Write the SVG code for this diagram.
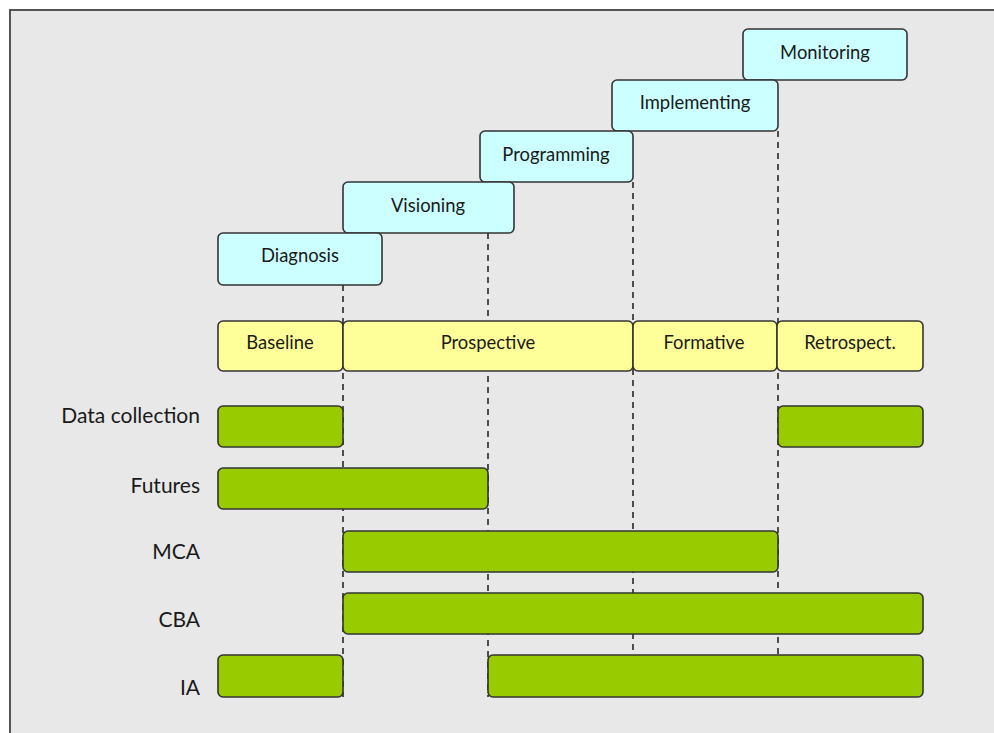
<svg xmlns="http://www.w3.org/2000/svg" width="994" height="733" viewBox="0 0 994 733">
<style>
.frame{fill:#e8e8e8;stroke:#555;stroke-width:2}
.phase{fill:#ccffff;stroke:#333;stroke-width:1.6}
.eval{fill:#ffff99;stroke:#333;stroke-width:1.6}
.bar{fill:#99cc00;stroke:#333;stroke-width:1.6}
.dash{stroke:#333;stroke-width:1.7;stroke-dasharray:6,5;fill:none}
.t{font-family:Lato,"Liberation Sans",sans-serif;font-size:18.4px;fill:#1a1a1a;text-anchor:middle}
.lbl{font-family:Lato,"Liberation Sans",sans-serif;font-size:21px;fill:#1a1a1a;text-anchor:end}
</style>
<rect width="994" height="733" fill="#fff"/>
<rect class="frame" x="10" y="10" width="990" height="730"/>
<g id="connectors">
<line class="dash" x1="343" y1="285" x2="343" y2="697"/>
<line class="dash" x1="488" y1="233" x2="488" y2="697"/>
<line class="dash" x1="633" y1="182" x2="633" y2="656"/>
<line class="dash" x1="778" y1="131" x2="778" y2="656"/>
</g>
<g id="monitoring"><rect class="phase" x="743" y="29" width="164" height="51" rx="5"/><text class="t" x="825" y="59">Monitoring</text></g>
<g id="implementing"><rect class="phase" x="612" y="80" width="166" height="51" rx="5"/><text class="t" x="695" y="109">Implementing</text></g>
<g id="programming"><rect class="phase" x="480" y="131" width="153" height="51" rx="5"/><text class="t" x="556" y="161">Programming</text></g>
<g id="visioning"><rect class="phase" x="343" y="182" width="171" height="51" rx="5"/><text class="t" x="428" y="212">Visioning</text></g>
<g id="diagnosis"><rect class="phase" x="218" y="233" width="164" height="52" rx="5"/><text class="t" x="300" y="262">Diagnosis</text></g>
<g id="baseline"><rect class="eval" x="218" y="321" width="125" height="50" rx="5"/><text class="t" x="280" y="349">Baseline</text></g>
<g id="prospective"><rect class="eval" x="343" y="321" width="290" height="50" rx="5"/><text class="t" x="488" y="349">Prospective</text></g>
<g id="formative"><rect class="eval" x="633" y="321" width="144" height="50" rx="5"/><text class="t" x="704" y="349">Formative</text></g>
<g id="retrospect"><rect class="eval" x="777" y="321" width="146" height="50" rx="5"/><text class="t" x="850" y="349">Retrospect.</text></g>
<g id="data-collection"><text class="lbl" x="200" y="423">Data collection</text><rect class="bar" x="218" y="406" width="125" height="41" rx="5"/><rect class="bar" x="778" y="406" width="145" height="41" rx="5"/></g>
<g id="futures"><text class="lbl" x="200" y="493">Futures</text><rect class="bar" x="218" y="468" width="270" height="41" rx="5"/></g>
<g id="mca"><text class="lbl" x="200" y="559">MCA</text><rect class="bar" x="343" y="531" width="435" height="41" rx="5"/></g>
<g id="cba"><text class="lbl" x="200" y="627">CBA</text><rect class="bar" x="343" y="593" width="580" height="41" rx="5"/></g>
<g id="ia"><text class="lbl" x="200" y="695">IA</text><rect class="bar" x="218" y="655" width="125" height="42" rx="5"/><rect class="bar" x="488" y="655" width="435" height="42" rx="5"/></g>
</svg>
